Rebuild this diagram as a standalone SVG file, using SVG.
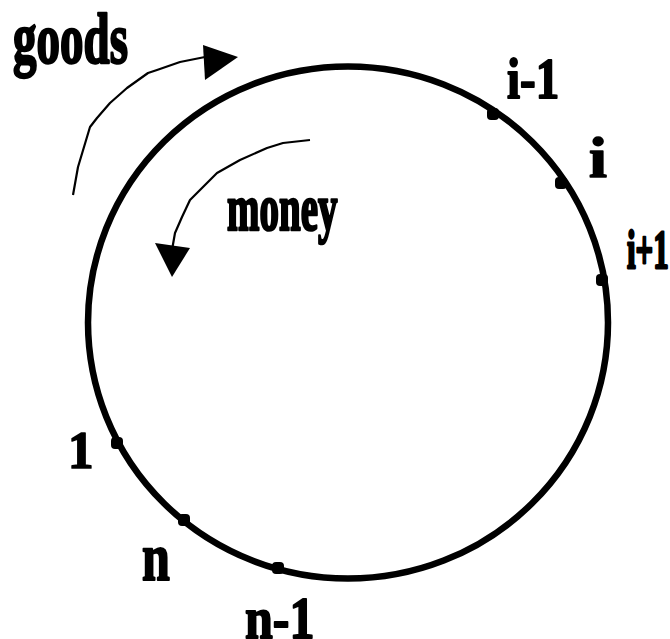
<svg xmlns="http://www.w3.org/2000/svg" width="670" height="639" viewBox="0 0 670 639">
<style>
text{font-family:"Liberation Serif","Times New Roman",serif;font-weight:bold;fill:#000;stroke:#000;stroke-width:1.6;stroke-linejoin:round}
.flow{fill:none;stroke:#000;stroke-width:2.2;stroke-linejoin:round}
.dot{fill:#000}
</style>
<rect width="670" height="639" fill="#fff"/>
<g id="ring">
<ellipse cx="348" cy="322.5" rx="260" ry="256" fill="none" stroke="#000" stroke-width="6.5"/>
</g>
<g id="connectors">
<polyline class="flow" points="73,195 78,167 90,127 97,118 110,103 127,88 148,73 157,70 180,62 205,57"/>
<polygon points="203,45 205,80 238,57" fill="#000"/>
<polyline class="flow" points="310,140 283,143 267,148 240,160 217,173 190,200 182,217 175,233 172,250"/>
<polygon points="155,243 190,248 172,277" fill="#000"/>
</g>
<g id="label-goods"><text transform="translate(13,63) scale(1,1.55)" font-size="47">goods</text></g>
<g id="label-money"><text transform="translate(227,230) scale(1,1.7)" font-size="39">money</text></g>
<g id="node-i-1"><rect class="dot" x="487" y="108" width="12" height="12" rx="4"/><text transform="translate(507,98) scale(1,1.2)" font-size="47">i-1</text></g>
<g id="node-i"><rect class="dot" x="555" y="177" width="12" height="12" rx="4"/><text transform="translate(589,177) scale(1.15,1)" font-size="56">i</text></g>
<g id="node-i+1"><rect class="dot" x="596" y="274" width="12" height="12" rx="4"/><text transform="translate(627,268) scale(1,1.8)" font-size="31">i+1</text></g>
<g id="node-1"><rect class="dot" x="111" y="437" width="12" height="12" rx="4"/><text transform="translate(68,468) scale(1,1.05)" font-size="51">1</text></g>
<g id="node-n"><rect class="dot" x="178" y="514" width="12" height="12" rx="4"/><text transform="translate(142,580) scale(1,1.35)" font-size="50">n</text></g>
<g id="node-n-1"><rect class="dot" x="272" y="562" width="12" height="12" rx="4"/><text transform="translate(245,638) scale(1,1.2)" font-size="50">n-1</text></g>
</svg>
